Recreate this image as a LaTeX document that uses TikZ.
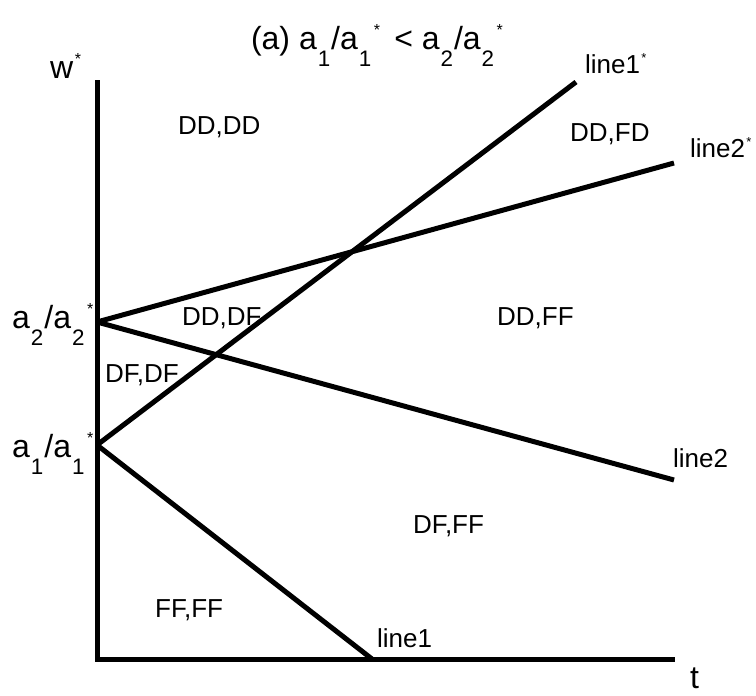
\documentclass[tikz,border=0pt]{standalone}
\usepackage{fontspec}
\setmainfont{Liberation Sans}
\newcommand{\lowsub}[1]{\kern0.03em\raisebox{-0.55em}{\scalebox{0.7}{#1}}\kern0.03em}
\newcommand{\upstar}{\kern0.05em\raisebox{0.42em}{\scalebox{0.5}{*}}}
\begin{document}
\begin{tikzpicture}[x=1pt,y=-1pt,
  axis/.style={line width=5pt, line join=miter},
  bound/.style={line width=5pt},
  lbl/.style={anchor=base west, inner sep=0pt, font=\fontsize{26}{30}\selectfont},
  big/.style={anchor=base west, inner sep=0pt, font=\fontsize{32}{36}\selectfont}]
\useasboundingbox (0,0) rectangle (756,696);
% axes
\coordinate (top) at (97,80);
\coordinate (orig) at (97,659);
\coordinate (tend) at (675,659);
\draw[axis] (top) -- (orig) -- (tend);
% boundary lines
\coordinate (O2) at (97,322);
\coordinate (O1) at (97,445);
\coordinate (E1s) at (576,82);
\coordinate (E2s) at (674,163);
\coordinate (E2) at (674,480);
\coordinate (E1) at (372,659);
\draw[bound] (O1) -- (E1s);
\draw[bound] (O2) -- (E2s);
\draw[bound] (O2) -- (E2);
\draw[bound] (O1) -- (E1);
% title and axis labels
\node[big, anchor=base] (title) at (377,49) {(a) a\lowsub{1}/a\lowsub{1}\upstar{}\ \,< a\lowsub{2}/a\lowsub{2}\upstar};
\node[big] (w) at (50,78) {w\upstar};
\node[big] (t) at (690,688) {t};
\node[big] (a2) at (12,328) {a\lowsub{2}/a\lowsub{2}\upstar};
\node[big] (a1) at (12,457) {a\lowsub{1}/a\lowsub{1}\upstar};
% line labels
\node[lbl] (l1s) at (585,73) {line1\upstar};
\node[lbl] (l2s) at (690,157) {line2\upstar};
\node[lbl] (l2) at (673,467) {line2};
\node[lbl] (l1) at (377,647) {line1};
% region labels
\node[lbl] (r1) at (178,134) {DD,DD};
\node[lbl] (r2) at (570,141) {DD,FD};
\node[lbl] (r3) at (182,325) {DD,DF};
\node[lbl] (r4) at (497,325) {DD,FF};
\node[lbl] (r5) at (105,382) {DF,DF};
\node[lbl] (r6) at (413,533) {DF,FF};
\node[lbl] (r7) at (155,617) {FF,FF};
\end{tikzpicture}
\end{document}
